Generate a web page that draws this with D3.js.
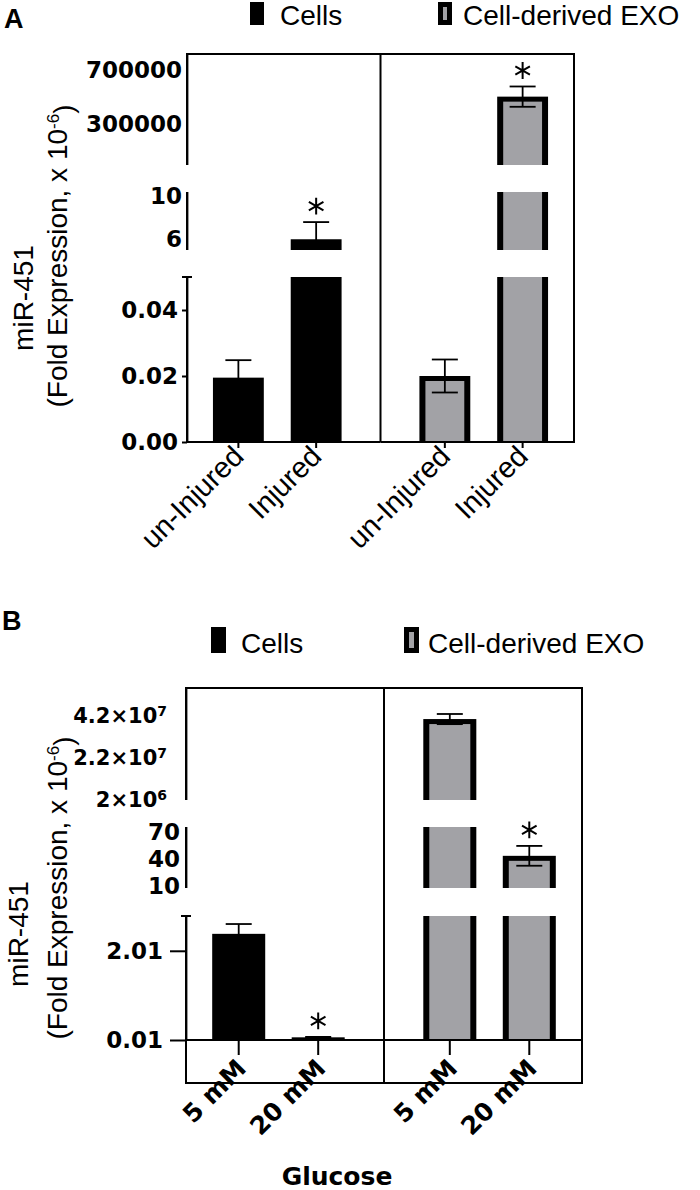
<!DOCTYPE html>
<html>
<head>
<meta charset="utf-8">
<script src="https://cdn.jsdelivr.net/npm/d3@7"></script>
<style>
  body { margin: 0; background: #fff; }
  svg { display: block; }
</style>
</head>
<body>
<div id="chart"></div>
<script>
// ---- data ----
const groups = ['Cells', 'Cell-derived EXO']

// panel A (injury)
const categoriesA = ['un-Injured', 'Injured']
const cellsMeanA = [0.0195, 6]
const cellsSemA = [0.0053, 1.6]
const exoMeanA = [0.02, 505000]
const exoSemA = [0.005, 75000]
const starsA = [[false, true], [false, true]]
const segmentsA = [[0, 0.05], [5, 10.4], [0, 820000]]
const tickValuesA = [[0, 0.02, 0.04], [6, 10], [300000, 700000]]
const tickLabelsA = [['0.00', '0.02', '0.04'], ['6', '10'], ['300000', '700000']]

// panel B (glucose)
const categoriesB = ['5 mM', '20 mM']
const cellsMeanB = [2.39, 0.07]
const cellsSemB = [0.22, 0.01]
const exoMeanB = [4.03e7, 44]
const exoSemB = [2.4e6, 11]
const starsB = [[false, true], [false, true]]
const segmentsB = [[0.01, 2.79], [8.3, 76], [2e6, 5.5e7]]
const tickValuesB = [[0.01, 2.01], [10, 40, 70], [2e6, 2.2e7, 4.2e7]]
const tickLabelsB = [['0.01', '2.01'], ['10', '40', '70'], ['2×10^6', '2.2×10^7', '4.2×10^7']]

// ---- look ----
const W = 700, H = 1190
const sans = '"Liberation Sans", Arial, sans-serif'
const bold = '"DejaVu Sans", Verdana, sans-serif'
const exoGray = '#a2a2a6'

const svg = d3.select('#chart').append('svg')
  .attr('width', W)
  .attr('height', H)

svg.append('rect').attr('width', W).attr('height', H).attr('fill', '#fff')

const layoutA = {
  letter: 'A', letterX: 4, letterY: 28,
  legendRectX: [250, 438], legendTextX: [280, 463], legendTop: 2, legendH: 23, legendW: 14, legendBase: 25,
  left: 187, right: 574, top: 54, base: 442, frameBottom: null,
  segRanges: [[442, 277], [250, 192], [165, 54]],
  tickLen: [5, 0, 0], tickPad: [4, 5, 5],
  padIn: 0.346, padOut: 0.417,
  xLabelFont: sans, xLabelWeight: 'normal', xLabelSize: 29, xLabelDx: 7, xLabelDy: 16, xTick: 6,
  title1: [33, 298], title2: [67, 256],
  xTitle: null
}

const layoutB = {
  letter: 'B', letterX: 2, letterY: 630,
  legendRectX: [211, 404], legendTextX: [241, 428], legendTop: 627, legendH: 26, legendW: 15, legendBase: 653,
  left: 186, right: 582, top: 688, base: 1040, frameBottom: 1083,
  segRanges: [[1040, 916], [888, 827], [800, 688]],
  tickLen: [16, 0, 0], tickPad: [7, 6, 19],
  padIn: 0.333, padOut: 0.412,
  xLabelFont: bold, xLabelWeight: 'bold', xLabelSize: 25, xLabelDx: 9, xLabelDy: 30, xTick: 15,
  title1: [28, 934], title2: [67, 888],
  xTitle: {text: 'Glucose', x: 337, y: 1185}
}

function drawPanel(p, d) {
  const g = svg.append('g')

  // panel letter
  g.append('text')
    .attr('x', p.letterX)
    .attr('y', p.letterY)
    .attr('font-family', sans)
    .attr('font-weight', 'bold')
    .attr('font-size', 27)
    .text(p.letter)

  // legend
  const leg = g.selectAll('.legend')
    .data(groups)
    .enter()
    .append('g')
    .attr('class', 'legend')
  leg.append('rect')
    .attr('x', (_, i) => p.legendRectX[i])
    .attr('y', p.legendTop)
    .attr('width', p.legendW)
    .attr('height', p.legendH)
    .attr('fill', '#000')
  leg.filter((_, i) => i === 1)
    .append('rect')
    .attr('x', p.legendRectX[1] + 5)
    .attr('y', p.legendTop + 5)
    .attr('width', p.legendW - 10)
    .attr('height', p.legendH - 10)
    .attr('fill', exoGray)
  leg.append('text')
    .attr('x', (_, i) => p.legendTextX[i])
    .attr('y', p.legendBase)
    .attr('font-family', sans)
    .attr('font-size', 28)
    .text((t) => t)

  // broken y scale: one linear scale per segment
  const ys = d.segments.map((dom, i) => d3.scaleLinear().domain(dom).range(p.segRanges[i]))
  const segOf = (v) => {
    const i = d.segments.findIndex((s) => v >= s[0] && v <= s[1])
    if (i >= 0) return i
    return v > d.segments[d.segments.length - 1][1] ? d.segments.length - 1 : -1
  }

  // x scales: one band per group, nested band for categories
  const outer = d3.scaleBand().domain(groups).range([p.left, p.right])
  const inner = groups.map((grp, gi) => d3.scaleBand()
    .domain(d.categories)
    .range([outer(grp), outer(grp) + outer.bandwidth()])
    .paddingInner(p.padIn)
    .paddingOuter(p.padOut)
    .align(gi === 0 ? 0.4 : 0.6))

  const bars = []
  groups.forEach((grp, gi) => {
    d.categories.forEach((cat, ci) => {
      bars.push({
        gi, ci,
        x: inner[gi](cat),
        w: inner[gi].bandwidth(),
        mean: d.means[gi][ci],
        sem: d.sems[gi][ci],
        star: d.stars[gi][ci]
      })
    })
  })

  // bar pieces, one per axis segment the bar reaches
  const pieces = bars.flatMap((b) => {
    const top = segOf(b.mean)
    return d.segments
      .map((dom, i) => ({i, dom}))
      .filter((s) => s.i <= top)
      .map((s) => ({
        b,
        isTop: s.i === top,
        y0: ys[s.i](s.dom[0]),
        y1: ys[s.i](Math.min(b.mean, s.dom[1]))
      }))
  })

  g.selectAll('.bar')
    .data(pieces)
    .enter()
    .append('rect')
    .attr('class', 'bar')
    .attr('x', (q) => q.b.x)
    .attr('y', (q) => q.y1)
    .attr('width', (q) => q.b.w)
    .attr('height', (q) => Math.max(1, q.y0 - q.y1))
    .attr('fill', '#000')

  const bw = 6
  g.selectAll('.fill')
    .data(pieces.filter((q) => q.b.gi === 1))
    .enter()
    .append('rect')
    .attr('class', 'fill')
    .attr('x', (q) => q.b.x + bw)
    .attr('y', (q) => q.y1 + (q.isTop ? 5 : 0))
    .attr('width', (q) => q.b.w - 2 * bw)
    .attr('height', (q) => Math.max(0, q.y0 - q.y1 - (q.isTop ? 5 : 0)))
    .attr('fill', exoGray)

  // error bars
  const capW = 26
  const errs = bars.map((b) => {
    const mi = segOf(b.mean)
    const hi = b.mean + b.sem
    const lo = b.mean - b.sem
    const loSeg = segOf(lo)
    const cx = b.x + b.w / 2
    return {
      b, cx,
      yHi: ys[segOf(hi)](hi),
      yLo: loSeg === mi ? ys[mi](lo) : ys[mi](d.segments[mi][0]),
      loCap: loSeg === mi
    }
  })
  const eg = g.append('g')
    .attr('stroke', '#000')
    .attr('stroke-width', 1.8)
  eg.selectAll('.stem')
    .data(errs)
    .enter()
    .append('line')
    .attr('x1', (e) => e.cx).attr('x2', (e) => e.cx)
    .attr('y1', (e) => e.yLo).attr('y2', (e) => e.yHi)
  eg.selectAll('.capHi')
    .data(errs)
    .enter()
    .append('line')
    .attr('x1', (e) => e.cx - capW / 2).attr('x2', (e) => e.cx + capW / 2)
    .attr('y1', (e) => e.yHi).attr('y2', (e) => e.yHi)
  eg.selectAll('.capLo')
    .data(errs.filter((e) => e.loCap))
    .enter()
    .append('line')
    .attr('x1', (e) => e.cx - capW / 2).attr('x2', (e) => e.cx + capW / 2)
    .attr('y1', (e) => e.yLo).attr('y2', (e) => e.yLo)

  // significance stars
  g.selectAll('.star')
    .data(errs.filter((e) => e.b.star))
    .enter()
    .append('path')
    .attr('class', 'star')
    .attr('d', d3.symbol().type(d3.symbolAsterisk).size(200))
    .attr('transform', (e) => `translate(${e.cx},${e.yHi - 16})`)
    .attr('fill', 'none')
    .attr('stroke', '#000')
    .attr('stroke-width', 2)

  // frame
  const fr = g.append('g')
    .attr('stroke', '#000')
    .attr('stroke-width', 2)
    .attr('fill', 'none')
  const divX = outer(groups[1])
  const lowY = p.frameBottom || p.base
  fr.append('line').attr('x1', p.left - 1).attr('x2', p.right + 1).attr('y1', p.top).attr('y2', p.top)
  fr.append('line').attr('x1', p.right).attr('x2', p.right).attr('y1', p.top).attr('y2', lowY)
  fr.append('line').attr('x1', divX).attr('x2', divX).attr('y1', p.top).attr('y2', lowY)
  if (p.frameBottom) {
    fr.append('line').attr('x1', p.left).attr('x2', p.left).attr('y1', p.base).attr('y2', p.frameBottom)
    fr.append('line').attr('x1', p.left - 1).attr('x2', p.right + 1).attr('y1', p.frameBottom).attr('y2', p.frameBottom)
  }

  // y axis segments
  ys.forEach((y, i) => {
    const ax = d3.axisLeft(y)
      .tickValues(d.tickValues[i])
      .tickFormat((v, j) => d.tickLabels[i][j])
      .tickSize(p.tickLen[i])
      .tickSizeOuter(0)
      .tickPadding(p.tickPad[i])
    const ag = g.append('g')
      .attr('transform', `translate(${p.left},0)`)
      .call(ax)
    ag.select('.domain').remove()
    ag.selectAll('.tick line').attr('stroke-width', 2)
    ag.selectAll('.tick text')
      .attr('font-family', bold)
      .attr('font-weight', 'bold')
      .attr('font-size', 23)
      .attr('fill', '#000')
      .each(function (_, j) {
        const s = d.tickLabels[i][j]
        if (s.indexOf('^') < 0) return
        const [base, sup] = s.split('^')
        const t = d3.select(this).text(null).attr('font-size', 21)
        t.append('tspan').text(base)
        t.append('tspan').attr('dy', '-0.5em').attr('font-size', 14).text(sup)
      })
  })

  // axis line of each segment
  g.selectAll('.segline')
    .data(ys)
    .enter()
    .append('rect')
    .attr('class', 'segline')
    .attr('x', p.left - 1)
    .attr('y', (y) => Math.min(...y.range()))
    .attr('width', 2.4)
    .attr('height', (y) => Math.abs(y.range()[0] - y.range()[1]))
    .attr('fill', '#000')

  // cap on top of the lowest segment
  const capY = p.segRanges[0][1]
  g.append('line')
    .attr('x1', p.left - 5).attr('x2', p.left + 5)
    .attr('y1', capY).attr('y2', capY)
    .attr('stroke', '#000').attr('stroke-width', 2)

  // x axes, one per group
  groups.forEach((grp, gi) => {
    const ax = d3.axisBottom(inner[gi])
      .tickSize(p.xTick)
      .tickSizeOuter(0)
    const xg = g.append('g')
      .attr('transform', `translate(0,${p.base})`)
      .call(ax)
    xg.select('.domain').attr('stroke-width', 2)
      .attr('d', `M${outer(grp) - (gi === 0 ? 1 : 0)},0H${outer(grp) + outer.bandwidth() + (gi === 1 ? 1 : 0)}`)
    xg.selectAll('.tick line').attr('stroke-width', 2)
    xg.selectAll('.tick text')
      .attr('x', 0).attr('y', 0).attr('dy', 0)
      .attr('transform', `translate(${p.xLabelDx},${p.xLabelDy}) rotate(-45)`)
      .attr('text-anchor', 'end')
      .attr('font-family', p.xLabelFont)
      .attr('font-weight', p.xLabelWeight)
      .attr('font-size', p.xLabelSize)
      .attr('fill', '#000')
  })

  if (p.xTitle) {
    g.append('text')
      .attr('x', p.xTitle.x)
      .attr('y', p.xTitle.y)
      .attr('text-anchor', 'middle')
      .attr('font-family', bold)
      .attr('font-weight', 'bold')
      .attr('font-size', 25)
      .text(p.xTitle.text)
  }

  // y title, two lines
  g.append('text')
    .attr('transform', `translate(${p.title1[0]},${p.title1[1]}) rotate(-90)`)
    .attr('text-anchor', 'middle')
    .attr('font-family', sans)
    .attr('font-size', 28)
    .text('miR-451')
  const t2 = g.append('text')
    .attr('transform', `translate(${p.title2[0]},${p.title2[1]}) rotate(-90)`)
    .attr('text-anchor', 'middle')
    .attr('font-family', sans)
    .attr('font-size', 28)
  t2.append('tspan').text('(Fold Expression, x 10')
  t2.append('tspan').attr('dy', '-0.5em').attr('font-size', 17).text('-6')
  t2.append('tspan').attr('dy', '0.5em').text(')')
}

drawPanel(layoutA, {
  categories: categoriesA,
  means: [cellsMeanA, exoMeanA],
  sems: [cellsSemA, exoSemA],
  stars: starsA,
  segments: segmentsA,
  tickValues: tickValuesA,
  tickLabels: tickLabelsA
})

drawPanel(layoutB, {
  categories: categoriesB,
  means: [cellsMeanB, exoMeanB],
  sems: [cellsSemB, exoSemB],
  stars: starsB,
  segments: segmentsB,
  tickValues: tickValuesB,
  tickLabels: tickLabelsB
})
</script>
</body>
</html>
